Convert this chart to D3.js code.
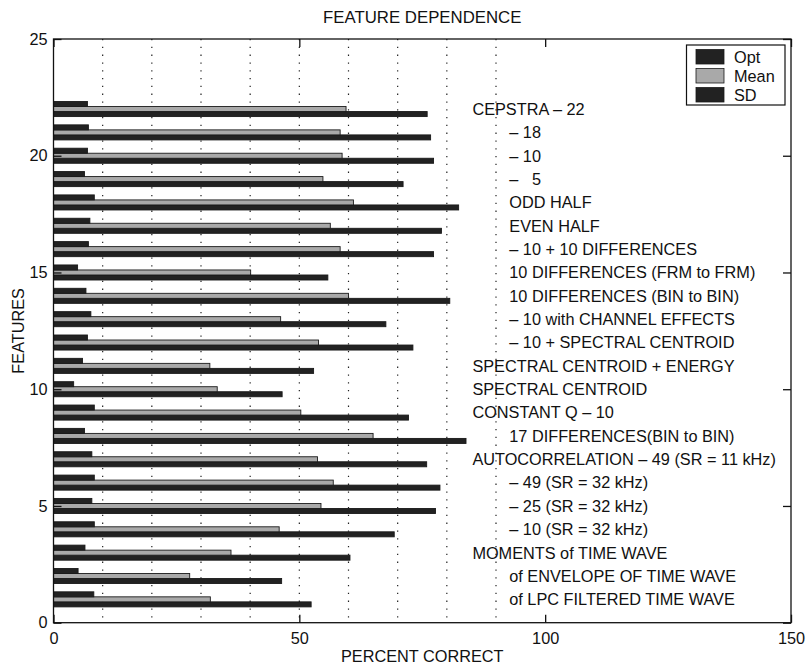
<!DOCTYPE html>
<html>
<head>
<meta charset="utf-8">
<script src="https://cdn.jsdelivr.net/npm/d3@7"></script>
<style>
  body { margin: 0; background: #fff; }
  svg text { font-family: "Liberation Sans", Arial, Helvetica, sans-serif; fill: #111; }
</style>
</head>
<body>
<svg id="chart" width="806" height="665"></svg>
<script>
// ---- data ----
const features = [1,2,3,4,5,6,7,8,9,10,11,12,13,14,15,16,17,18,19,20,21,22];
const optValues  = [52.4,46.4,60.3,69.3,77.7,78.6,75.9,83.9,72.2,46.5,52.9,73.1,67.6,80.6,55.8,77.3,78.9,82.4,71.1,77.3,76.7,76.0];
const meanValues = [31.9,27.7,36.1,45.9,54.4,56.9,53.7,65.0,50.3,33.3,31.8,53.9,46.2,60.0,40.1,58.3,56.3,61.0,54.8,58.7,58.3,59.5];
const sdValues   = [8.2,5.0,6.4,8.3,7.8,8.3,7.8,6.3,8.3,4.1,5.9,6.9,7.6,6.6,4.9,7.1,7.4,8.3,6.3,6.9,7.1,6.9];
const featureLabels = [
  "of LPC FILTERED TIME WAVE",
  "of ENVELOPE OF TIME WAVE",
  "MOMENTS of TIME WAVE",
  "– 10 (SR = 32 kHz)",
  "– 25 (SR = 32 kHz)",
  "– 49 (SR = 32 kHz)",
  "AUTOCORRELATION – 49 (SR = 11 kHz)",
  "17 DIFFERENCES(BIN to BIN)",
  "CONSTANT Q – 10",
  "SPECTRAL CENTROID",
  "SPECTRAL CENTROID + ENERGY",
  "– 10 + SPECTRAL CENTROID",
  "– 10 with CHANNEL EFFECTS",
  "10 DIFFERENCES (BIN to BIN)",
  "10 DIFFERENCES (FRM to FRM)",
  "– 10 + 10 DIFFERENCES",
  "EVEN HALF",
  "ODD HALF",
  "–   5",
  "– 10",
  "– 18",
  "CEPSTRA – 22"
];
const labelIndent = [1,1,0,1,1,1,0,1,0,0,0,1,1,1,1,1,1,1,1,1,1,0]; // 0 = main heading, 1 = sub item
const xTicks = [0,50,100,150];
const yTicks = [0,5,10,15,20,25];
const gridValues = [10,20,30,40,50,60,70,80,90];
const seriesNames = ["Opt","Mean","SD"];
const seriesColors = {Opt:"#222222", Mean:"#a9a9a9", SD:"#222222"};
const titleText = "FEATURE DEPENDENCE";
const xTitle = "PERCENT CORRECT";
const yTitle = "FEATURES";

// ---- layout ----
const svg = d3.select("#chart");
const L = 53.5, R = 791, T = 39, B = 622.7;
const x = d3.scaleLinear().domain([0,150]).range([L,R]);
const y = d3.scaleLinear().domain([0,25]).range([B,T]);
const barW = 0.215;
const offsets = {SD: 1, Mean: 0, Opt: -1};

// grid
svg.append("g").selectAll("line").data(gridValues).join("line")
  .attr("x1", d=>x(d)).attr("x2", d=>x(d))
  .attr("y1", T).attr("y2", B)
  .attr("stroke", "#222").attr("stroke-width", 1.2)
  .attr("stroke-dasharray", "1.3,6.5");

// bars
const rows = features.map((f,i)=>({f, Opt:optValues[i], Mean:meanValues[i], SD:sdValues[i]}));
const gBars = svg.append("g");
["Opt","Mean","SD"].forEach(s=>{
  gBars.selectAll("rect."+s).data(rows).join("rect")
    .attr("class", s)
    .attr("x", x(0))
    .attr("y", d=>y(d.f + offsets[s]*barW + barW/2))
    .attr("width", d=>x(d[s]) - x(0))
    .attr("height", y(0) - y(barW))
    .attr("fill", seriesColors[s])
    .attr("stroke", "#1a1a1a").attr("stroke-width", 0.9);
});

// feature labels
svg.append("g").selectAll("text").data(features).join("text")
  .attr("x", (d,i)=> labelIndent[i] ? x(92.7) : x(85.2))
  .attr("y", d=>y(d))
  .attr("dy", "0.36em")
  .attr("font-size", 16.3)
  .style("white-space", "pre")
  .text((d,i)=>featureLabels[i]);

// frame
svg.append("rect").attr("x", L).attr("y", T).attr("width", R-L).attr("height", B-T)
  .attr("fill", "none").attr("stroke", "#111").attr("stroke-width", 1.3);

// axes with inward ticks
const xAxisB = d3.axisBottom(x).tickValues(xTicks).tickSizeInner(-8).tickSizeOuter(0).tickPadding(10).tickFormat(d3.format("d"));
const gxb = svg.append("g").attr("transform", `translate(0,${B})`).call(xAxisB);
gxb.select(".domain").remove();
gxb.selectAll("line").attr("stroke", "#111").attr("stroke-width", 1.3);
gxb.selectAll("text").attr("font-size", 16.3).attr("font-family", "Liberation Sans, Arial, sans-serif").attr("fill", "#111");

const xAxisT = d3.axisTop(x).tickValues(xTicks).tickSizeInner(-8).tickSizeOuter(0).tickFormat("");
const gxt = svg.append("g").attr("transform", `translate(0,${T})`).call(xAxisT);
gxt.select(".domain").remove();
gxt.selectAll("line").attr("stroke", "#111").attr("stroke-width", 1.3);

const yAxisL = d3.axisLeft(y).tickValues(yTicks).tickSizeInner(-8).tickSizeOuter(0).tickPadding(6).tickFormat(d3.format("d"));
const gyl = svg.append("g").attr("transform", `translate(${L},0)`).call(yAxisL);
gyl.select(".domain").remove();
gyl.selectAll("line").attr("stroke", "#111").attr("stroke-width", 1.3);
gyl.selectAll("text").attr("font-size", 16.3).attr("font-family", "Liberation Sans, Arial, sans-serif").attr("fill", "#111");

const yAxisR = d3.axisRight(y).tickValues(yTicks).tickSizeInner(-8).tickSizeOuter(0).tickFormat("");
const gyr = svg.append("g").attr("transform", `translate(${R},0)`).call(yAxisR);
gyr.select(".domain").remove();
gyr.selectAll("line").attr("stroke", "#111").attr("stroke-width", 1.3);

// titles
svg.append("text").attr("x", (L+R)/2).attr("y", 17).attr("dy", "0.36em")
  .attr("text-anchor", "middle").attr("font-size", 16.8).text(titleText);
svg.append("text").attr("x", (L+R)/2).attr("y", 656).attr("dy", "0.36em")
  .attr("text-anchor", "middle").attr("font-size", 16.3).text(xTitle);
svg.append("text").attr("transform", `translate(18,${(T+B)/2}) rotate(-90)`).attr("dy", "0.36em")
  .attr("text-anchor", "middle").attr("font-size", 16.3).text(yTitle);

// legend
const lg = svg.append("g");
lg.append("rect").attr("x", 686.5).attr("y", 45).attr("width", 98.5).attr("height", 60)
  .attr("fill", "#fff").attr("stroke", "#111").attr("stroke-width", 1.2);
seriesNames.forEach((s,i)=>{
  lg.append("rect").attr("x", 696).attr("y", 49.5 + i*19).attr("width", 28).attr("height", 14.5)
    .attr("fill", seriesColors[s]).attr("stroke", "#1a1a1a").attr("stroke-width", 0.8);
  lg.append("text").attr("x", 734).attr("y", 57 + i*19).attr("dy", "0.36em")
    .attr("font-size", 16.3).text(s);
});
</script>
</body>
</html>
